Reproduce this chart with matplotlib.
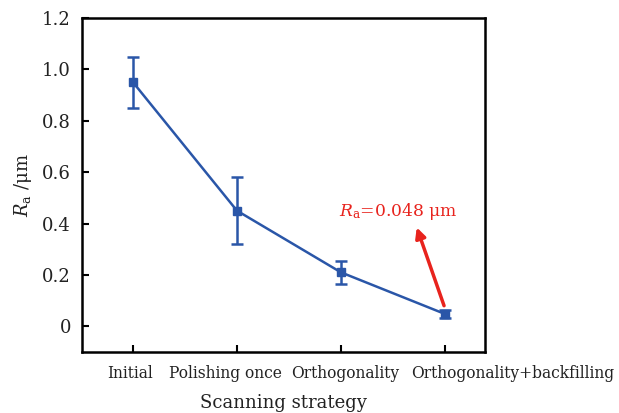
import matplotlib
matplotlib.use("Agg")
import matplotlib.pyplot as plt
from matplotlib.transforms import ScaledTranslation

categories = ["Initial", "Polishing once", "Orthogonality", "Orthogonality+backfilling"]
ra_values = [0.95, 0.45, 0.21, 0.048]
ra_errors = [0.10, 0.13, 0.045, 0.015]
yticks = [0, 0.2, 0.4, 0.6, 0.8, 1.0, 1.2]
ytick_labels = ["0", "0.2", "0.4", "0.6", "0.8", "1.0", "1.2"]

plt.rcParams['font.family'] = ['DejaVu Serif']
plt.rcParams['mathtext.fontset'] = 'dejavuserif'

fig = plt.figure(figsize=(6.19, 4.13), dpi=100)
ax = fig.add_axes([82/619, 1 - 352/413, (485-82)/619, (352-18)/413])

blue = "#2a56a8"
x = list(range(len(categories)))
ax.errorbar(x, ra_values, yerr=ra_errors, color=blue, lw=1.8, marker='s', ms=5.5,
            capsize=4, capthick=1.8, elinewidth=1.8)

ax.set_xlim(-0.49, 3.385)
ax.set_ylim(-0.1, 1.2)
ax.set_xticks(x)
ax.set_xticklabels(categories, fontsize=11.2, color='#222222')
ax.set_yticks(yticks)
ax.set_yticklabels(ytick_labels, fontsize=13, color='#222222')
ax.tick_params(direction='in', length=5, width=1.5)
ax.tick_params(axis='x', pad=9)
ax.tick_params(axis='y', pad=8)
for s in ax.spines.values():
    s.set_linewidth(1.8)

# shift tick labels horizontally (pixels) to mimic reference layout
offsets_px = [-3, -12, 4, 0]
for lbl, dx in zip(ax.get_xticklabels(), offsets_px):
    lbl.set_transform(lbl.get_transform() + ScaledTranslation(dx/100, 0, fig.dpi_scale_trans))
last = ax.get_xticklabels()[-1]
last.set_horizontalalignment('left')
last.set_transform(last.get_transform() + ScaledTranslation(-34/100, 0, fig.dpi_scale_trans))

ax.set_xlabel("Scanning strategy", fontsize=13, labelpad=9, color='#222222')
ax.set_ylabel(r"$R_{\mathrm{a}}$ /μm", fontsize=13, labelpad=6, color='#222222')

ax.annotate(r"$R_{\mathrm{a}}$=0.048 μm", xy=(2.72, 0.39), xytext=(2.55, 0.445),
            ha='center', va='center', color='#e8231d', fontsize=12.3)
ax.annotate("", xy=(2.72, 0.395), xytext=(3.0, 0.07),
            arrowprops=dict(arrowstyle='-|>,head_length=0.6,head_width=0.3', color='#e8231d', lw=2.5))

fig.savefig("out.png", dpi=100)
